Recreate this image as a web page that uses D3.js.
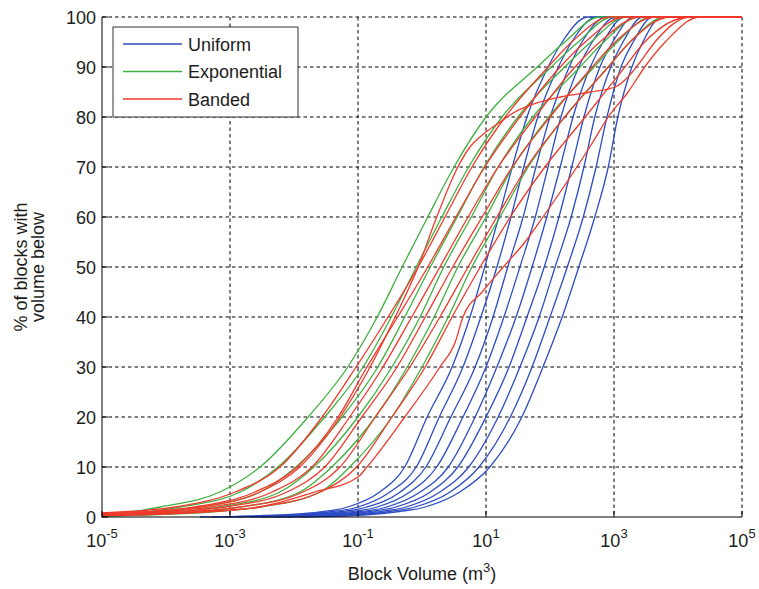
<!DOCTYPE html>
<html>
<head>
<meta charset="utf-8">
<script src="https://cdn.jsdelivr.net/npm/d3@7/dist/d3.min.js"></script>
<style>
  body { margin: 0; background: #fff; }
  text { font-family: Arial, "Liberation Sans", Helvetica, sans-serif; fill: #1c1c1c; }
</style>
</head>
<body>
<svg id="chart" width="759" height="589"></svg>
<script>
// Cumulative block-size distributions: % of blocks smaller than a given volume.
// Volumes are stored as log10(m³).

// Percent levels sampled on every Uniform curve
const uniformLevels = [0, 0.5, 1, 2, 5, 10, 20, 30, 40, 50, 60, 70, 80, 90, 95, 100];
const uniformLogVolume = [
  [-3.47, -2.06, -1.59, -1.16, -0.66, -0.27, 0.08, 0.47, 0.75, 0.98, 1.20, 1.41, 1.64, 1.97, 2.19, 2.59],
  [-3.28, -1.91, -1.45, -1.00, -0.50, -0.09, 0.27, 0.64, 0.92, 1.17, 1.39, 1.59, 1.81, 2.13, 2.34, 2.73],
  [-3.08, -1.75, -1.30, -0.86, -0.34, 0.06, 0.45, 0.83, 1.11, 1.34, 1.58, 1.78, 2.00, 2.30, 2.50, 2.88],
  [-2.89, -1.59, -1.16, -0.70, -0.19, 0.23, 0.64, 1.00, 1.28, 1.53, 1.77, 1.97, 2.17, 2.45, 2.66, 3.03],
  [-2.69, -1.44, -1.00, -0.55, -0.03, 0.41, 0.83, 1.17, 1.47, 1.72, 1.95, 2.16, 2.36, 2.63, 2.83, 3.17],
  [-2.50, -1.28, -0.86, -0.41, 0.13, 0.56, 1.00, 1.36, 1.64, 1.91, 2.14, 2.34, 2.53, 2.78, 2.98, 3.31],
  [-2.30, -1.13, -0.72, -0.25, 0.28, 0.73, 1.19, 1.53, 1.83, 2.08, 2.33, 2.53, 2.70, 2.95, 3.14, 3.45],
  [-2.11, -0.97, -0.56, -0.11, 0.44, 0.89, 1.38, 1.72, 2.00, 2.27, 2.52, 2.72, 2.89, 3.11, 3.30, 3.61],
  [-1.91, -0.81, -0.42, 0.05, 0.59, 1.06, 1.56, 1.89, 2.19, 2.45, 2.70, 2.91, 3.06, 3.28, 3.45, 3.75]
];

// Exponential curves: percent at the smallest volume (10^-5), then the shared levels
const exponentialStartPercent = [0.5, 0.4, 0.35, 0.3, 0.25, 0.2];
const exponentialLevels = [1, 2, 5, 10, 20, 30, 40, 50, 60, 70, 80, 90, 95, 100];
const exponentialLogVolume = [
  [-4.56, -4.09, -3.16, -2.53, -1.78, -1.16, -0.70, -0.31, 0.09, 0.50, 1.00, 1.80, 2.23, 2.78],
  [-4.31, -3.78, -2.84, -2.25, -1.52, -0.92, -0.48, -0.09, 0.31, 0.73, 1.25, 2.02, 2.44, 2.98],
  [-4.06, -3.47, -2.53, -1.97, -1.25, -0.69, -0.27, 0.13, 0.55, 0.97, 1.50, 2.23, 2.64, 3.19],
  [-3.81, -3.16, -2.22, -1.69, -1.00, -0.47, -0.03, 0.34, 0.77, 1.19, 1.73, 2.47, 2.84, 3.39],
  [-3.56, -2.84, -1.91, -1.41, -0.73, -0.23, 0.19, 0.56, 1.00, 1.42, 1.98, 2.69, 3.05, 3.59],
  [-3.31, -2.53, -1.59, -1.13, -0.47, 0.00, 0.41, 0.78, 1.22, 1.66, 2.23, 2.91, 3.25, 3.80]
];

// Banded curves as [log10 volume, percent] pairs
const bandedCurves = [
  [[-5, 0.8], [-4.72, 1], [-3.86, 2], [-2.92, 5], [-2.22, 10], [-1.56, 20], [-1.03, 30], [-0.53, 40],
   [-0.06, 50], [0.36, 60], [0.78, 70], [1.30, 80], [1.97, 90], [2.34, 95], [2.94, 100]],
  [[-5, 0.6], [-4.41, 1], [-3.55, 2], [-2.61, 5], [-1.95, 10], [-1.31, 20], [-0.86, 30], [-0.38, 40],
   [0.09, 50], [0.53, 60], [0.98, 70], [1.53, 80], [2.16, 90], [2.55, 95], [3.17, 100]],
  [[-5, 0.5], [-4.17, 1], [-3.31, 2], [-2.34, 5], [-1.72, 10], [-1.13, 20], [-0.61, 30], [-0.16, 40],
   [0.28, 50], [0.72, 60], [1.19, 70], [1.77, 80], [2.39, 90], [2.78, 95], [3.41, 100]],
  [[-5, 0.4], [-3.94, 1], [-3.08, 2], [-2.11, 5], [-1.52, 10], [-0.94, 20], [-0.39, 30], [0.05, 40],
   [0.48, 50], [0.94, 60], [1.41, 70], [2.00, 80], [2.66, 90], [3.02, 95], [3.64, 100]],
  [[-5, 0.4], [-3.70, 1], [-2.84, 2], [-1.86, 5], [-1.28, 10], [-0.73, 20], [-0.19, 30], [0.28, 40],
   [0.72, 50], [1.17, 60], [1.64, 70], [2.23, 80], [2.91, 90], [3.25, 95], [3.88, 100]],
  [[-5, 0.3], [-3.47, 1], [-2.56, 2], [-1.59, 5], [-1.02, 10], [-0.47, 20], [0.05, 30], [0.47, 40],
   [0.91, 50], [1.38, 60], [1.92, 70], [2.55, 80], [3.17, 90], [3.48, 95], [4.19, 100]],
  [[-5, 0.6], [-4.33, 1], [-3.47, 2], [-2.53, 5], [-1.91, 10], [-1.28, 20], [-0.81, 30], [-0.42, 40],
   [-0.06, 50], [0.23, 60], [0.56, 70], [0.75, 74], [1.00, 77], [1.22, 79], [1.45, 81], [1.84, 83],
   [2.16, 84], [2.63, 85], [3.02, 86], [3.22, 88], [3.41, 91], [3.64, 95], [4.19, 100]],
  [[-5, 0.3], [-3.39, 1], [-2.53, 2], [-1.67, 5], [-1.00, 8], [-0.86, 10], [-0.27, 20], [0.28, 30],
   [0.52, 35], [0.64, 40], [0.94, 45], [1.27, 50], [1.61, 55], [1.89, 60], [2.16, 65], [2.42, 70],
   [2.67, 75], [2.91, 80], [3.22, 85], [3.48, 90], [3.80, 95], [4.34, 100]]
];

const xTickExponents = [-5, -3, -1, 1, 3, 5];
const yTicks = [0, 10, 20, 30, 40, 50, 60, 70, 80, 90, 100];
const legendLabels = ["Uniform", "Exponential", "Banded"];
const familyColors = ["#2c4cc4", "#3fb040", "#f03a2c"];

const svg = d3.select("#chart");
const plotLeft = 102, plotRight = 742, plotTop = 17, plotBottom = 517;

const x = d3.scaleLog().domain([1e-5, 1e5]).range([plotLeft, plotRight]);
const y = d3.scaleLinear().domain([0, 100]).range([plotBottom, plotTop]);

// grid
const grid = svg.append("g").attr("stroke", "#000").attr("stroke-width", 1)
  .attr("stroke-dasharray", "3.5,3").attr("fill", "none");
xTickExponents.filter(e => e > -5).forEach(e => {
  grid.append("line").attr("x1", x(10 ** e)).attr("x2", x(10 ** e))
    .attr("y1", plotTop).attr("y2", plotBottom);
});
yTicks.filter(t => t > 0).forEach(t => {
  grid.append("line").attr("x1", plotLeft).attr("x2", plotRight)
    .attr("y1", y(t)).attr("y2", y(t));
});

// curves
svg.append("clipPath").attr("id", "plotClip").append("rect")
  .attr("x", plotLeft).attr("y", plotTop - 2)
  .attr("width", plotRight - plotLeft + 2).attr("height", plotBottom - plotTop + 3);

const line = d3.line()
  .x(d => x(10 ** d[0]))
  .y(d => y(d[1]))
  .curve(d3.curveMonotoneX);

const curves = svg.append("g").attr("clip-path", "url(#plotClip)")
  .attr("fill", "none").attr("stroke-width", 1.3);

const uniformSeries = uniformLogVolume.map(row =>
  uniformLevels.map((p, i) => [row[i], p]).concat([[5, 100]]));
const exponentialSeries = exponentialLogVolume.map((row, k) =>
  [[-5, exponentialStartPercent[k]]]
    .concat(exponentialLevels.map((p, i) => [row[i], p]))
    .concat([[5, 100]]));
const bandedSeries = bandedCurves.map(c => c.concat([[5, 100]]));

[uniformSeries, exponentialSeries, bandedSeries].forEach((family, f) => {
  curves.selectAll(null).data(family).enter().append("path")
    .attr("d", line).attr("stroke", familyColors[f]);
});

// axes
const axes = svg.append("g").attr("stroke", "#000").attr("stroke-width", 1);
axes.append("line").attr("x1", plotLeft).attr("x2", plotLeft)
  .attr("y1", plotTop).attr("y2", plotBottom + 0.5);
axes.append("line").attr("x1", plotLeft).attr("x2", plotRight)
  .attr("y1", plotBottom).attr("y2", plotBottom);
xTickExponents.forEach(e => {
  axes.append("line").attr("x1", x(10 ** e)).attr("x2", x(10 ** e))
    .attr("y1", plotBottom).attr("y2", plotBottom - 6);
});
yTicks.forEach(t => {
  axes.append("line").attr("x1", plotLeft).attr("x2", plotLeft + 6)
    .attr("y1", y(t)).attr("y2", y(t));
});

// tick labels
yTicks.forEach(t => {
  svg.append("text").attr("x", 96).attr("y", y(t) + 6.5)
    .attr("text-anchor", "end").attr("font-size", 18).text(t);
});
xTickExponents.forEach(e => {
  const t = svg.append("text").attr("x", x(10 ** e)).attr("y", 547)
    .attr("text-anchor", "middle").attr("font-size", 18);
  t.append("tspan").text("10");
  t.append("tspan").attr("dy", -9).attr("font-size", 13).text(e);
});

// axis titles
const xt = svg.append("text").attr("x", 422).attr("y", 580)
  .attr("text-anchor", "middle").attr("font-size", 18);
xt.append("tspan").text("Block Volume (m");
xt.append("tspan").attr("dy", -8).attr("font-size", 13).text("3");
xt.append("tspan").attr("dy", 8).text(")");

const yt = svg.append("text").attr("transform", "translate(27,267) rotate(-90)")
  .attr("text-anchor", "middle").attr("font-size", 18);
yt.append("tspan").attr("x", 0).attr("y", 0).text("% of blocks with");
yt.append("tspan").attr("x", 0).attr("y", 17).text("volume below");

// legend
const lg = svg.append("g");
lg.append("rect").attr("x", 113).attr("y", 27).attr("width", 185).attr("height", 90)
  .attr("fill", "#fff").attr("stroke", "#333").attr("stroke-width", 1);
legendLabels.forEach((name, i) => {
  const cy = 44 + i * 27.5;
  lg.append("line").attr("x1", 123).attr("x2", 182).attr("y1", cy).attr("y2", cy)
    .attr("stroke", familyColors[i]).attr("stroke-width", 1.3);
  lg.append("text").attr("x", 188).attr("y", cy + 6.5).attr("font-size", 18).text(name);
});
</script>
</body>
</html>
